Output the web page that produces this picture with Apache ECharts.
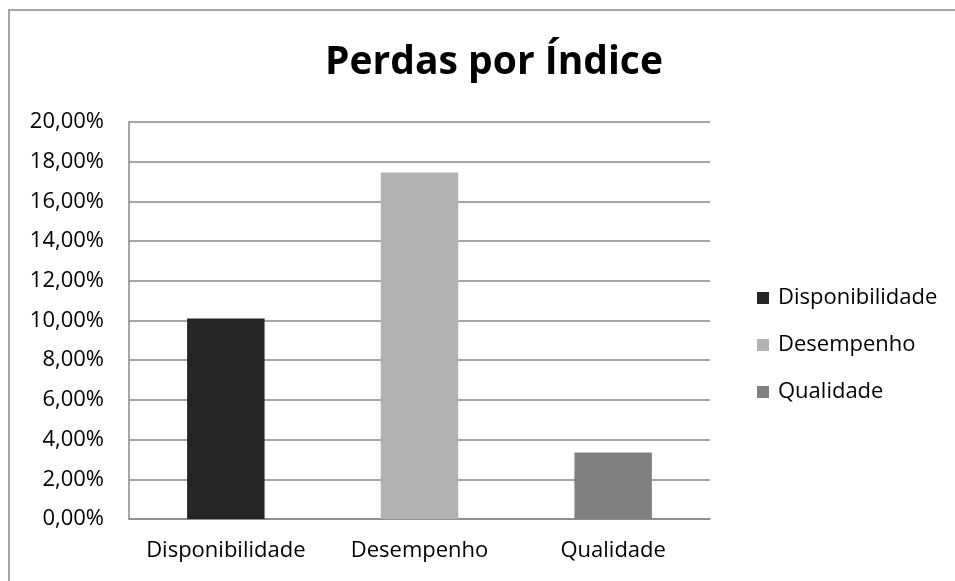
<!DOCTYPE html>
<html>
<head>
<meta charset="utf-8">
<script src="https://cdn.jsdelivr.net/npm/echarts@6/dist/echarts.min.js"></script>
<style>
html, body { margin: 0; padding: 0; background: #fff; }
#chart { width: 955px; height: 581px; }
</style>
</head>
<body>
<div id="chart"></div>
<script>
// dados do gráfico
const categorias = ['Disponibilidade', 'Desempenho', 'Qualidade'];
const valores = [10.1, 17.45, 3.35];
const cores = ['#262626', '#b2b2b2', '#808080'];
const yTicks = { min: 0, max: 20, interval: 2 };

const fonte = '"Open Sans", sans-serif';

let myChart = echarts.init(document.getElementById('chart'));

// uma série por categoria, empilhadas para ficarem centradas
let series = categorias.map(function (nome, i) {
    return {
        name: nome,
        type: 'bar',
        stack: 'total',
        barWidth: '40%',
        itemStyle: { color: cores[i] },
        data: categorias.map(function (c, j) { return j === i ? valores[i] : '-'; })
    };
});

let option = {
    backgroundColor: '#fff',
    animation: false,
    title: {
        text: 'Perdas por Índice',
        left: 489,
        top: 38,
        textAlign: 'center',
        textStyle: { fontFamily: fonte, fontSize: 39, fontWeight: 'bold', color: '#000' }
    },
    graphic: [{
        type: 'rect',
        shape: { x: 9, y: 10, width: 1100, height: 1000 },
        style: { fill: 'none', stroke: '#a6a6a6', lineWidth: 2 },
        silent: true
    }],
    legend: {
        orient: 'vertical',
        left: 752,
        top: 281,
        itemWidth: 12,
        itemHeight: 12,
        itemGap: 23,
        icon: 'rect',
        textStyle: { fontFamily: fonte, fontSize: 22, lineHeight: 24, color: '#000', padding: [0, 0, 0, 4] },
        data: categorias
    },
    grid: { left: 129, right: 245, top: 122, bottom: 62, containLabel: false },
    xAxis: {
        type: 'category',
        data: categorias,
        axisTick: { show: false },
        axisLine: { lineStyle: { color: '#888', width: 1.5 } },
        axisLabel: { fontFamily: fonte, fontSize: 22, color: '#000', margin: 21, interval: 0, hideOverlap: false }
    },
    yAxis: {
        type: 'value',
        min: yTicks.min,
        max: yTicks.max,
        interval: yTicks.interval,
        axisLine: { show: true, lineStyle: { color: '#888', width: 1.5 } },
        axisTick: { show: false },
        splitLine: { lineStyle: { color: '#888', width: 1.5 } },
        axisLabel: {
            fontFamily: fonte, fontSize: 22, color: '#000', margin: 25,
            formatter: function (v) { return v.toFixed(2).replace('.', ',') + '%'; }
        }
    },
    series: series
};

myChart.setOption(option);
</script>
</body>
</html>
